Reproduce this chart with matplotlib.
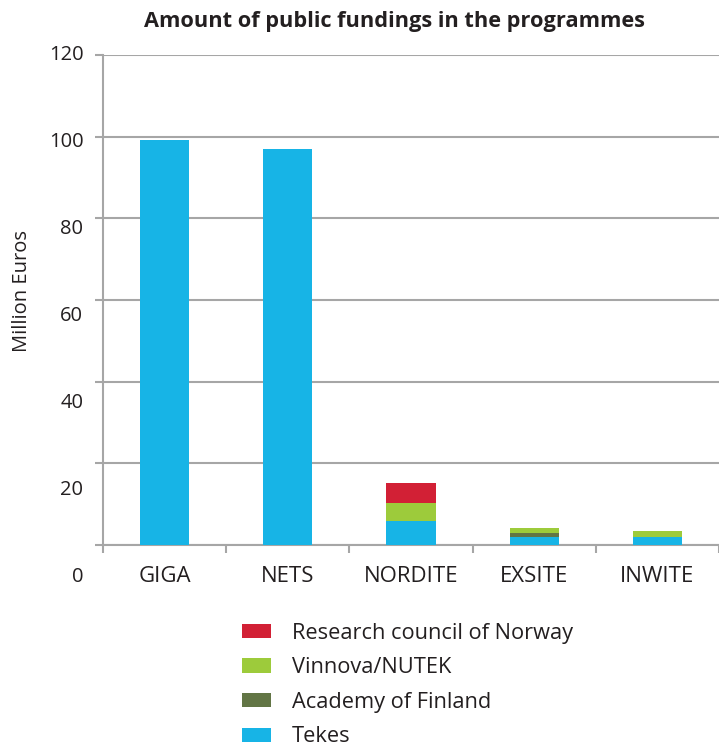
import numpy as np
import matplotlib.pyplot as plt
from matplotlib.patches import Patch

# public funding per programme, million euros
programmes = ["GIGA", "NETS", "NORDITE", "EXSITE", "INWITE"]
tekes = [99.2, 97.0, 5.9, 2.0, 2.0]
academy = [0.0, 0.0, 0.0, 1.0, 0.0]
vinnova = [0.0, 0.0, 4.5, 1.2, 1.4]
norway = [0.0, 0.0, 4.8, 0.0, 0.0]
yvals = [0, 20, 40, 60, 80, 100, 120]

series = [
    ("Tekes", tekes, "#17b4e6"),
    ("Academy of Finland", academy, "#627545"),
    ("Vinnova/NUTEK", vinnova, "#9dcb3b"),
    ("Research council of Norway", norway, "#d22035"),
]

plt.rcParams['font.family'] = ['Open Sans', 'DejaVu Sans']
grey = "#a6a6a6"
txt = "#231f20"

fig = plt.figure(figsize=(7.19, 7.49), dpi=100)
ax = fig.add_axes([0.1433, 0.2724, 0.8567, 0.6542])

x = np.arange(len(programmes))
bottom = np.zeros(len(programmes))
for name, vals, col in series:
    vals = np.array(vals)
    ax.bar(x, vals, 0.40, bottom=bottom, color=col, zorder=3)
    bottom += vals

ax.set_xlim(-0.5, 4.47)
ax.set_ylim(0, 120)

for s in ["top", "right"]:
    ax.spines[s].set_visible(False)
for s in ["left", "bottom"]:
    ax.spines[s].set_color(grey)
    ax.spines[s].set_linewidth(1.5)

# y gridlines and ticks, labels drawn separately below
ax.set_yticks(yvals)
ax.set_yticklabels([])
ax.yaxis.grid(True, color=grey, linewidth=1.5, zorder=0)
ax.tick_params(axis="y", length=6, width=1.5, color=grey)

ax.set_xticks(np.arange(-0.5, 5.0, 1.0))
ax.set_xticklabels([])
ax.set_xticks(x, minor=True)
ax.set_xticklabels(programmes, minor=True)
ax.tick_params(axis="x", which="major", length=6, width=1.5, color=grey)
ax.tick_params(axis="x", which="minor", length=0, pad=15, labelsize=16, labelcolor=txt)

for v in yvals:
    ax.text(-0.66, v - (120 - v) * 0.065, str(v), ha="right", va="center",
            fontsize=14.5, color=txt, clip_on=False)

fig.text(0.031, 0.612, "Million Euros", rotation=90, ha="center", va="center",
         fontsize=14.5, color=txt)
fig.text(0.548, 0.971, "Amount of public fundings in the programmes", ha="center",
         va="center", fontsize=15.7, fontweight="bold", color=txt)

handles = [Patch(facecolor=c, label=n) for n, _, c in series][::-1]
fig.legend(handles=handles, loc="upper left", bbox_to_anchor=(0.322, 0.183),
           frameon=False, fontsize=15.7, handlelength=1.33, handleheight=0.64,
           handletextpad=0.95, labelspacing=0.62, labelcolor=txt, borderpad=0)

fig.savefig("out.png", dpi=100)
